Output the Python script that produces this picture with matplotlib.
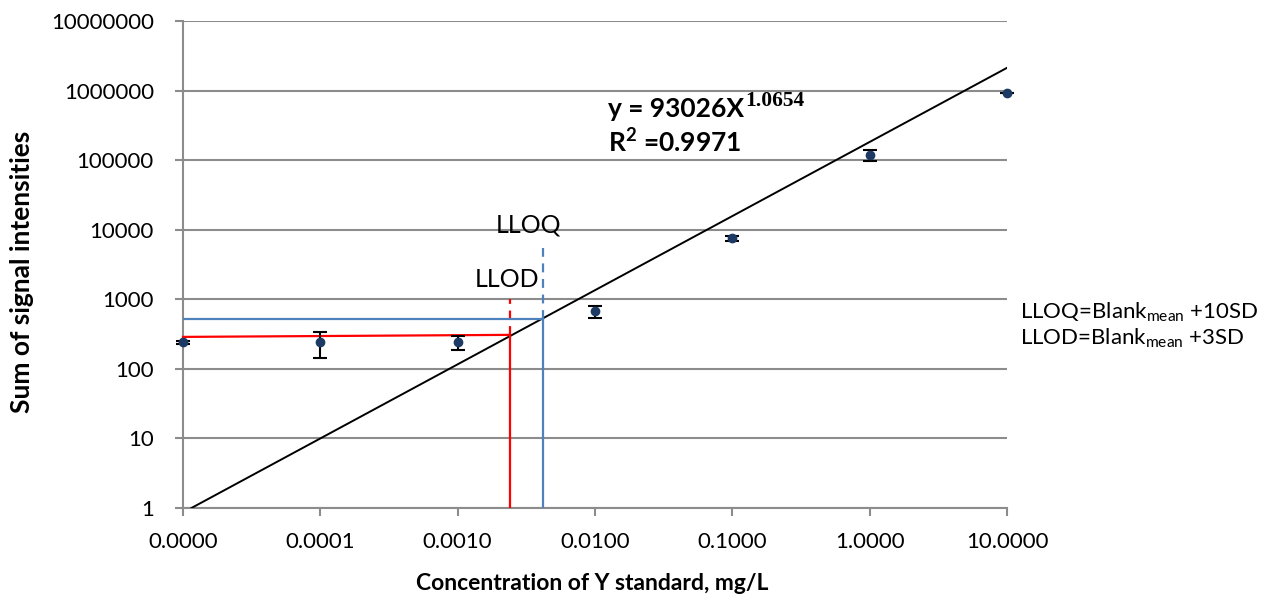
import matplotlib
matplotlib.use("Agg")
import matplotlib.pyplot as plt
from matplotlib.ticker import FixedLocator, FuncFormatter, NullLocator
import numpy as np

# calibration standards (mg/L) and summed signal intensities
conc = [1e-5, 1e-4, 1e-3, 1e-2, 1e-1, 1.0, 10.0]
signal = [240, 240, 240, 670, 7500, 118000, 930000]
signal_err = [15, 97, 55, 140, 700, 22000, 0]

# power-law trend line as drawn
LINE_COEF = 182600
LINE_EXP = 1.0654
EQ_COEF = "93026"
EQ_EXP = "1.0654"
R2 = "0.9971"

# detection / quantification limits
LLOD_X = 0.0024
LLOD_Y = [288, 308]
LLOD_TOP = 1000
LLOQ_X = 0.0042
LLOQ_Y = 515
LLOQ_TOP = 5500

x_ticks = [1e-5, 1e-4, 1e-3, 1e-2, 1e-1, 1, 10]
y_ticks = [1, 10, 100, 1000, 1e4, 1e5, 1e6, 1e7]

GRID = "#8c8c8c"
RED = "#ff0000"
BLUE = "#4f81bd"
NAVY = "#1c3a64"

plt.rcParams["font.family"] = ["Lato", "DejaVu Sans"]
plt.rcParams["mathtext.fontset"] = "custom"
plt.rcParams["mathtext.rm"] = "Lato"
plt.rcParams["mathtext.bf"] = "Lato:bold"

W, H = 1267, 606
fig = plt.figure(figsize=(W / 100, H / 100), dpi=100)
ax = fig.add_axes([183 / W, 1 - 508 / H, (1007 - 183) / W, (508 - 21) / H])
ax.set_xscale("log")
ax.set_yscale("log")
ax.set_xlim(1e-5, 10)
ax.set_ylim(1, 1e7)

ax.xaxis.set_major_locator(FixedLocator(x_ticks))
ax.yaxis.set_major_locator(FixedLocator(y_ticks))
ax.xaxis.set_minor_locator(NullLocator())
ax.yaxis.set_minor_locator(NullLocator())
ax.xaxis.set_major_formatter(FuncFormatter(lambda v, p: f"{v:.4f}"))
ax.yaxis.set_major_formatter(FuncFormatter(lambda v, p: f"{v:.0f}"))
ax.tick_params(axis="both", direction="out", length=6, width=1.5, color=GRID,
               labelsize=16, labelcolor="black")
ax.tick_params(axis="y", pad=15)
ax.tick_params(axis="x", pad=11)

for side in ("top", "right"):
    ax.spines[side].set_visible(False)
for side in ("left", "bottom"):
    ax.spines[side].set_color(GRID)
    ax.spines[side].set_linewidth(1.5)
ax.grid(True, axis="y", color=GRID, lw=1.5)
ax.set_axisbelow(True)

# trend line from y = 1 up to the last standard
x0 = (1.0 / LINE_COEF) ** (1.0 / LINE_EXP)
xs = np.logspace(np.log10(x0), 1, 200)
ax.plot(xs, LINE_COEF * xs ** LINE_EXP, color="black", lw=1.4, zorder=3)

# LLOD (red) and LLOQ (blue) construction lines
ax.plot([1e-5, LLOD_X], LLOD_Y, color=RED, lw=1.6, zorder=4, clip_on=False)
ax.plot([LLOD_X, LLOD_X], [1, LLOD_Y[1]], color=RED, lw=1.6, zorder=4)
ax.plot([LLOD_X, LLOD_X], [LLOD_Y[1], LLOD_TOP], color=RED, lw=1.6, ls=(0, (4, 3)), zorder=4)
ax.plot([1e-5, LLOQ_X], [LLOQ_Y, LLOQ_Y], color=BLUE, lw=1.6, zorder=4)
ax.plot([LLOQ_X, LLOQ_X], [1, LLOQ_Y], color=BLUE, lw=1.6, zorder=4)
ax.plot([LLOQ_X, LLOQ_X], [LLOQ_Y, LLOQ_TOP], color=BLUE, lw=1.6, ls=(0, (4, 3)), zorder=4)

ax.errorbar(conc, signal, yerr=signal_err, fmt="o", color=NAVY, ms=6,
            ecolor="black", elinewidth=1.5, capsize=5, capthick=1.5,
            zorder=5, clip_on=False)


def px(x, y):
    return x / W, 1 - y / H


fig.text(*px(528, 232), "LLOQ", fontsize=18, ha="center", va="baseline")
fig.text(*px(507, 287), "LLOD", fontsize=18, ha="center", va="baseline")

t_eq = fig.text(*px(608, 117), f"y = {EQ_COEF}X", fontsize=19, fontweight="bold",
                va="baseline")
ax.annotate(EQ_EXP, xy=(1, 0), xycoords=t_eq, xytext=(1, 11), textcoords="offset points",
            fontsize=15.5, fontweight="bold", family="Liberation Serif", va="baseline")
fig.text(*px(608, 152), r"R$^{\mathbf{2}}$ =" + R2, fontsize=19, fontweight="bold",
         va="baseline")

fig.text(*px(1020, 318), r"LLOQ=Blank$_{\mathrm{mean}}$ +10SD", fontsize=16, va="baseline")
fig.text(*px(1020, 344), r"LLOD=Blank$_{\mathrm{mean}}$ +3SD", fontsize=16, va="baseline")

fig.text(*px(592, 584), "Concentration of Y standard, mg/L", fontsize=16.5,
         fontweight="bold", ha="center", va="center")
fig.text(*px(22, 272), "Sum of signal intensities", fontsize=19, fontweight="bold",
         rotation=90, ha="center", va="center")

fig.savefig("out.png", dpi=100)
